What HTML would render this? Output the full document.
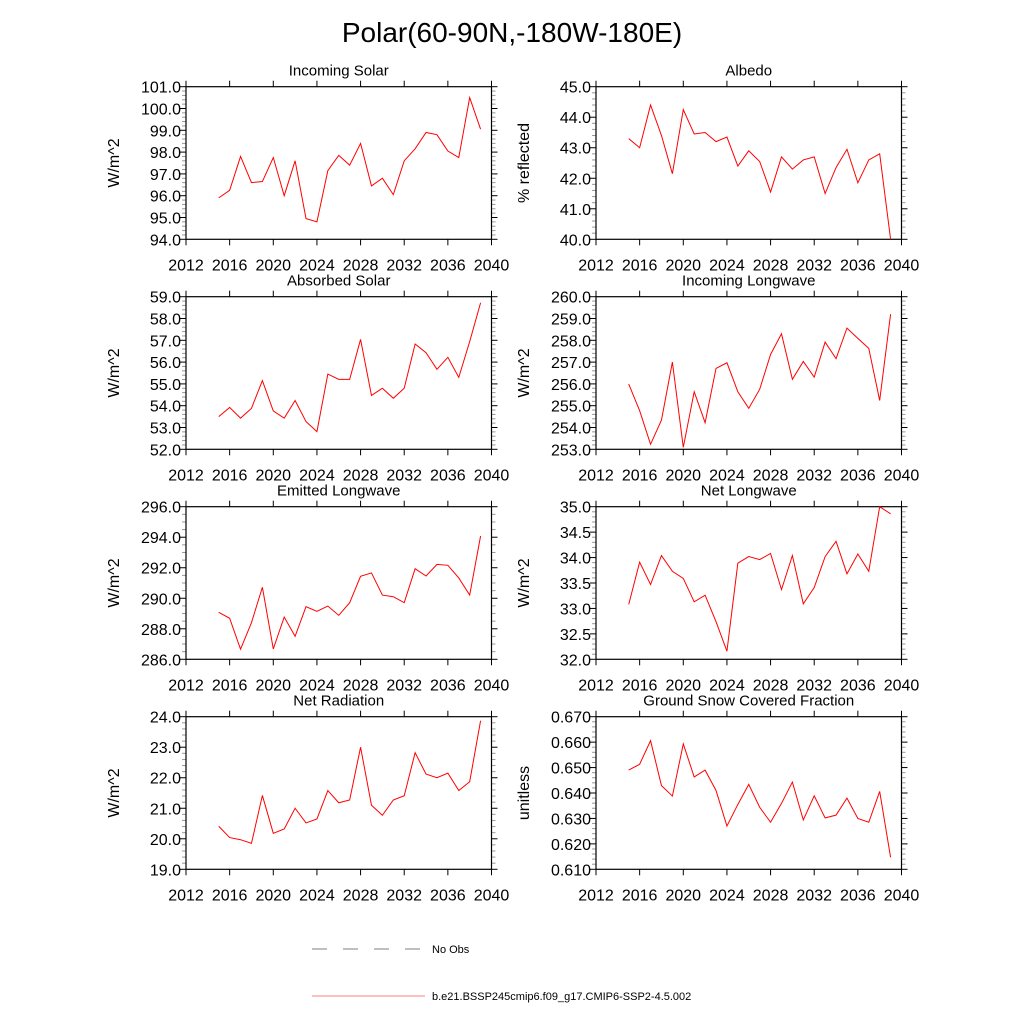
<!DOCTYPE html>
<html><head><meta charset="utf-8"><style>
body{margin:0;background:#fff;}
svg{display:block;font-family:"Liberation Sans",sans-serif;}
</style></head><body>
<svg id="fig" width="1024" height="1024" viewBox="0 0 1024 1024" xmlns="http://www.w3.org/2000/svg">
<text x="512" y="42" font-size="28" text-anchor="middle">Polar(60-90N,-180W-180E)</text>
<g>
<line x1="312" y1="949" x2="420" y2="949" stroke="#000" stroke-width="0.6" stroke-dasharray="15,16"/>
<text x="432" y="953" font-size="11">No Obs</text>
<line x1="312" y1="996" x2="425" y2="996" stroke="#ff0000" stroke-width="0.6"/>
<text x="432" y="1000" font-size="11">b.e21.BSSP245cmip6.f09_g17.CMIP6-SSP2-4.5.002</text>
</g>
</svg>
<script>
const years=[2015,2016,2017,2018,2019,2020,2021,2022,2023,2024,2025,2026,2027,2028,2029,2030,2031,2032,2033,2034,2035,2036,2037,2038,2039];
const xTicks=[2012,2016,2020,2024,2028,2032,2036,2040];
const incomingSolar=[95.9,96.25,97.8,96.6,96.65,97.75,96.0,97.6,94.95,94.8,97.15,97.85,97.4,98.4,96.45,96.8,96.05,97.6,98.15,98.9,98.8,98.05,97.75,100.5,99.05];
const albedo=[43.3,43.0,44.4,43.4,42.15,44.25,43.45,43.5,43.2,43.35,42.4,42.9,42.55,41.55,42.7,42.3,42.6,42.7,41.5,42.35,42.95,41.85,42.6,42.8,40.0];
const absorbedSolar=[53.5,53.92,53.43,53.88,55.15,53.76,53.43,54.24,53.27,52.81,55.45,55.21,55.21,57.04,54.47,54.8,54.34,54.8,56.83,56.43,55.67,56.22,55.3,56.94,58.72];
const incomingLongwave=[255.99,254.77,253.23,254.34,257.0,253.09,255.64,254.22,256.71,256.97,255.64,254.88,255.75,257.35,258.3,256.21,257.03,256.31,257.92,257.16,258.56,258.09,257.63,255.24,259.2];
const emittedLongwave=[289.08,288.69,286.66,288.4,290.72,286.68,288.77,287.51,289.45,289.14,289.49,288.88,289.71,291.44,291.66,290.21,290.1,289.71,291.94,291.46,292.22,292.16,291.33,290.21,294.08];
const netLongwave=[33.08,33.91,33.47,34.04,33.73,33.59,33.13,33.26,32.74,32.16,33.89,34.02,33.96,34.08,33.37,34.04,33.09,33.41,34.02,34.32,33.68,34.07,33.73,35.0,34.86];
const netRadiation=[20.41,20.04,19.97,19.85,21.42,20.18,20.32,21.0,20.52,20.65,21.58,21.18,21.27,23.0,21.1,20.77,21.27,21.41,22.82,22.12,22.0,22.15,21.58,21.87,23.87];
const snowFraction=[0.649,0.6513,0.6606,0.6429,0.6388,0.6593,0.6463,0.649,0.641,0.627,0.6355,0.6434,0.6344,0.6285,0.6359,0.6443,0.6294,0.6389,0.6302,0.6313,0.638,0.63,0.6285,0.6406,0.6147];
const panelTitles=["Incoming Solar","Albedo","Absorbed Solar","Incoming Longwave","Emitted Longwave","Net Longwave","Net Radiation","Ground Snow Covered Fraction"];
const yTitles=["W/m^2","% reflected","W/m^2","W/m^2","W/m^2","W/m^2","W/m^2","unitless"];
const yMins=[94,40,52,253,286,32,19,0.61];
const yMaxs=[101,45,59,260,296,35,24,0.67];
const yStep=[1,1,1,1,2,0.5,1,0.01];
const yDec=[1,1,1,1,1,1,1,3];
const yMinorPerMajor=[5,5,5,5,4,5,5,5];
const series=[incomingSolar,albedo,absorbedSolar,incomingLongwave,emittedLongwave,netLongwave,netRadiation,snowFraction];
const NS="http://www.w3.org/2000/svg";
const svg=document.getElementById('fig');
function mk(tag,attrs,parent){const e=document.createElementNS(NS,tag);for(const k in attrs)e.setAttribute(k,attrs[k]);(parent||svg).appendChild(e);return e;}
const W=305.5,H=152.6;
for(let p=0;p<8;p++){
  const col=p%2,row=Math.floor(p/2);
  const L=col?596:186, T=86.7+row*210;
  const g=mk('g',{});
  
  
  const xs=v=>L+(v-2012)/(2040-2012)*W;
  const ys=v=>T+H-(v-yMins[p])/(yMaxs[p]-yMins[p])*H;
  const t=mk('text',{x:L+W/2,y:T-11,'font-size':15,'text-anchor':'middle'},g);
  t.textContent=panelTitles[p];
  
  
  const nMaj=Math.round((yMaxs[p]-yMins[p])/yStep[p]);
  const nm=yMinorPerMajor[p];
  for(let i=0;i<=nMaj*nm;i++){
    if(i%nm===0)continue;
    const yy=T+H-i/(nMaj*nm)*H;
    mk('line',{x1:L-4,y1:yy,x2:L,y2:yy,stroke:'#999','stroke-width':1},g);
    mk('line',{x1:L+W,y1:yy,x2:L+W+4,y2:yy,stroke:'#999','stroke-width':1},g);
  }
  for(let i=0;i<=nMaj;i++){
    const v=yMins[p]+i*yStep[p];const yy=ys(v);
    mk('line',{x1:L-6,y1:yy,x2:L,y2:yy,stroke:'#000','stroke-width':1},g);
    mk('line',{x1:L+W,y1:yy,x2:L+W+6,y2:yy,stroke:'#000','stroke-width':1},g);
    const lt=mk('text',{x:L-5,y:yy+6,'font-size':16,'text-anchor':'end'},g);
    lt.textContent=v.toFixed(yDec[p]);
    
    
  }
  xTicks.forEach(v=>{
    const xx=xs(v);
    mk('line',{x1:xx,y1:T+H,x2:xx,y2:T+H+6,stroke:'#000','stroke-width':1},g);
    mk('line',{x1:xx,y1:T-6,x2:xx,y2:T,stroke:'#000','stroke-width':1},g);
    const lt=mk('text',{x:xx,y:T+H+31,'font-size':16,'text-anchor':'middle'},g);
    lt.textContent=v;
    
    
  });
  const fr=mk('rect',{x:L,y:T,width:W,height:H,fill:'none',stroke:'#000','stroke-width':1.2},g);
  
  
  const yt=mk('text',{x:0,y:0,'font-size':16,'text-anchor':'middle',transform:`translate(${L-67},${T+H/2}) rotate(-90)`},g);
  yt.textContent=yTitles[p];
  
  
  const pts=series[p].map((v,i)=>xs(years[i]).toFixed(2)+','+ys(v).toFixed(2)).join(' ');
  const ln=mk('polyline',{points:pts,fill:'none',stroke:'#ff0000','stroke-width':1},g);
  
  
}
</script>
</body></html>
